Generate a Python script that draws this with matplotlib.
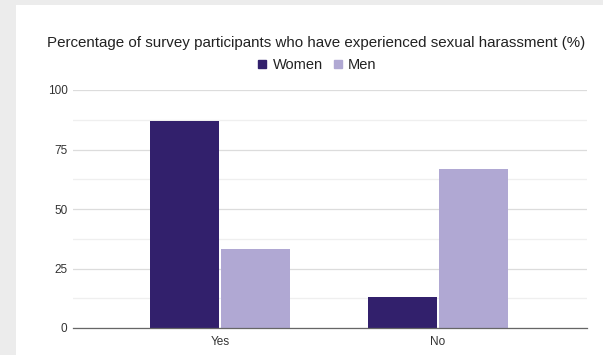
import matplotlib
matplotlib.use("Agg")
import matplotlib.pyplot as plt
from matplotlib.patches import Rectangle
from matplotlib.lines import Line2D
import numpy as np

categories = ["Yes", "No"]
series_names = ["Women", "Men"]
women = [87, 13]
men = [33, 67]
yticks = [0, 25, 50, 75, 100]

c_women = "#32206c"
c_men = "#b0a8d3"

plt.rcParams['font.family'] = ['Liberation Sans', 'DejaVu Sans']

W, H = 603, 355
fig = plt.figure(figsize=(W/100, H/100), dpi=100)
fig.patch.set_facecolor("#ececec")
fig.add_artist(Rectangle((16/W, 0), 1 - 16/W, 1 - 5/H, transform=fig.transFigure,
                         facecolor="white", edgecolor="none", zorder=0))

ax = fig.add_axes([73/W, 1 - 328/H, (587-73)/W, (328-90)/H])
ax.set_facecolor("none")
x = np.arange(len(categories))
bw = 0.317
gap = 0.005
ax.bar(x - bw/2 - gap, women, width=bw, color=c_women, zorder=3)
ax.bar(x + bw/2 + gap, men, width=bw, color=c_men, zorder=3)

ax.set_xlim(-0.674, 1.683)
ax.set_ylim(0, 100)
ax.set_yticks(yticks)
ax.set_yticks([12.5, 37.5, 62.5, 87.5], minor=True)
ax.yaxis.grid(True, which='major', color="#dcdcdc", linewidth=0.9, zorder=0)
ax.yaxis.grid(True, which='minor', color="#efefef", linewidth=0.9, zorder=0)
ax.set_xticks(x)
ax.set_xticklabels(categories)
ax.tick_params(axis='both', which='both', length=0, labelsize=8.5, labelcolor="#333333")
ax.tick_params(axis='y', pad=4)
ax.tick_params(axis='x', pad=6)
for s in ["top", "right", "left"]:
    ax.spines[s].set_visible(False)
ax.spines["bottom"].set_color("#666666")
ax.spines["bottom"].set_linewidth(0.9)
ax.spines["bottom"].set_zorder(4)

fig.text(316/W, 1 - 43/H, "Percentage of survey participants who have experienced sexual harassment (%)",
         ha="center", va="center", fontsize=10.9, color="#222222")

handles = [Line2D([], [], marker="s", linestyle="none", markersize=6, color=c)
           for c in (c_women, c_men)]
fig.legend(handles, series_names, loc="center", bbox_to_anchor=(317/W, 1 - 65/H),
           ncol=2, frameon=False, fontsize=10.5, handletextpad=0.35, columnspacing=0.7,
           handlelength=0.7, labelcolor="#222222")

fig.savefig("out.png", dpi=100, facecolor=fig.get_facecolor())
